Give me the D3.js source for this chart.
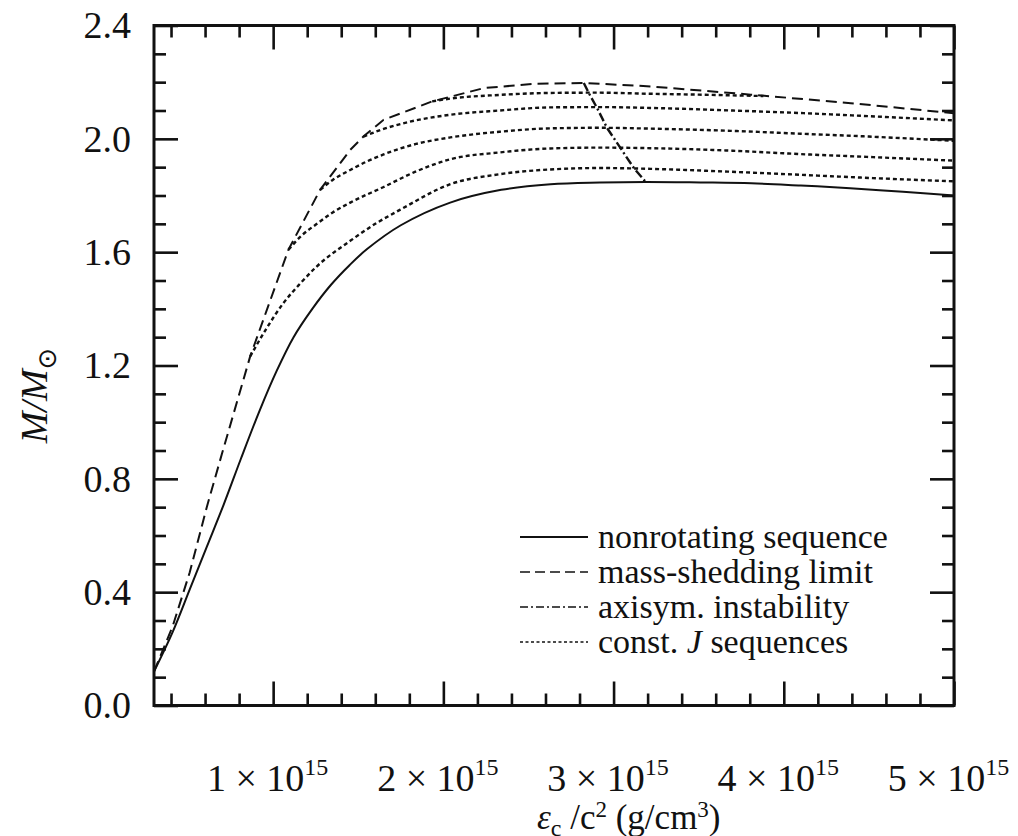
<!DOCTYPE html>
<html>
<head>
<meta charset="utf-8">
<script src="https://cdn.jsdelivr.net/npm/d3@7"></script>
<style>
  body { margin: 0; background: #fff; }
  svg { display: block; }
  text { font-family: "Liberation Serif", "Times New Roman", serif; fill: #111; }
</style>
</head>
<body>
<div id="chart"></div>
<script>
// central energy density in units of 1e15 g/cm^3, mass in solar masses
const nonrotating = [
  [0.30, 0.12], [0.41, 0.26], [0.51, 0.41], [0.61, 0.56], [0.71, 0.71],
  [0.81, 0.87], [0.92, 1.04], [1.02, 1.18], [1.12, 1.30], [1.23, 1.40],
  [1.34, 1.485], [1.45, 1.555], [1.55, 1.61], [1.75, 1.695], [2.04, 1.775],
  [2.34, 1.82], [2.63, 1.84], [2.92, 1.846], [3.19, 1.848], [3.51, 1.846],
  [3.81, 1.843], [4.10, 1.835], [4.39, 1.826], [4.70, 1.813], [5.00, 1.80]
];

const massShedding = [
  [0.30, 0.12], [0.41, 0.28], [0.51, 0.47], [0.61, 0.70], [0.70, 0.89],
  [0.865, 1.232], [1.09, 1.609], [1.276, 1.82], [1.453, 1.961], [1.53, 2.008],
  [1.649, 2.067], [1.934, 2.132], [2.237, 2.179], [2.53, 2.194], [2.825, 2.197],
  [3.218, 2.185], [3.806, 2.156], [4.394, 2.126], [5.00, 2.09]
];

const axisymInstability = [
  [2.825, 2.197], [2.854, 2.162], [2.903, 2.109], [2.962, 2.038],
  [3.041, 1.967], [3.119, 1.897], [3.188, 1.848]
];

const constJ1 = [
  [0.865, 1.232], [0.96, 1.33], [1.06, 1.42], [1.16, 1.49], [1.257, 1.55],
  [1.453, 1.64], [1.60, 1.70], [1.747, 1.75], [2.041, 1.84], [2.33, 1.875],
  [2.629, 1.892], [2.92, 1.897], [3.218, 1.894], [3.60, 1.886], [4.10, 1.873],
  [4.50, 1.862], [5.00, 1.85]
];
const constJ2 = [
  [1.09, 1.609], [1.17, 1.66], [1.257, 1.70], [1.35, 1.74], [1.453, 1.775],
  [1.649, 1.83], [1.84, 1.885], [2.041, 1.928], [2.33, 1.952], [2.629, 1.966],
  [2.92, 1.969], [3.218, 1.967], [3.70, 1.958], [4.10, 1.946], [4.50, 1.936],
  [5.00, 1.923]
];
const constJ3 = [
  [1.276, 1.82], [1.35, 1.855], [1.453, 1.89], [1.55, 1.92], [1.649, 1.945],
  [1.84, 1.982], [2.041, 2.005], [2.33, 2.025], [2.629, 2.037], [2.92, 2.039],
  [3.218, 2.036], [3.70, 2.028], [4.10, 2.018], [4.50, 2.008], [5.00, 1.993]
];
const constJ4 = [
  [1.53, 2.008], [1.649, 2.035], [1.80, 2.06], [2.041, 2.085], [2.33, 2.10],
  [2.629, 2.111], [2.92, 2.112], [3.218, 2.109], [3.70, 2.10], [4.10, 2.091],
  [4.50, 2.08], [5.00, 2.065]
];
const constJ5 = [
  [1.934, 2.132], [2.041, 2.142], [2.33, 2.155], [2.629, 2.162], [2.90, 2.163],
  [3.218, 2.159], [3.50, 2.156], [3.88, 2.151]
];
const constJ = [constJ1, constJ2, constJ3, constJ4, constJ5];

const xMajorTicks = [1, 2, 3, 4, 5];
const xMinorTicks = [0.4, 0.6, 0.8, 1.2, 1.4, 1.6, 1.8, 2.2, 2.4, 2.6, 2.8,
  3.2, 3.4, 3.6, 3.8, 4.2, 4.4, 4.6, 4.8];
const yMajorTicks = [0, 0.4, 0.8, 1.2, 1.6, 2.0, 2.4];
const yMinorTicks = [0.1, 0.2, 0.3, 0.5, 0.6, 0.7, 0.9, 1.0, 1.1, 1.3, 1.4, 1.5,
  1.7, 1.8, 1.9, 2.1, 2.2, 2.3];

const legendLabels = ["nonrotating sequence", "mass-shedding limit",
  "axisym. instability", "const. J sequences"];

const W = 1018, H = 836;
const plot = {left: 154, right: 954, top: 25.5, bottom: 705.5};

const svg = d3.select("#chart").append("svg")
  .attr("width", W)
  .attr("height", H);

const x = d3.scaleLinear().domain([0.3, 5.0]).range([plot.left, plot.right]);
const y = d3.scaleLinear().domain([0, 2.4]).range([plot.bottom, plot.top]);

const line = d3.line()
  .x(d => x(d[0]))
  .y(d => y(d[1]))
  .curve(d3.curveMonotoneX);

const smoothLine = d3.line()
  .x(d => x(d[0]))
  .y(d => y(d[1]))
  .curve(d3.curveCatmullRom.alpha(0.5));

const straightLine = d3.line()
  .x(d => x(d[0]))
  .y(d => y(d[1]));

// 曲线
const curves = svg.append("g").attr("fill", "none").attr("stroke", "#111");

constJ.forEach(seq => {
  curves.append("path")
    .attr("d", line(seq))
    .attr("stroke-width", 2.4)
    .attr("stroke-dasharray", "4,3");
});

curves.append("path")
  .attr("d", straightLine(massShedding))
  .attr("stroke-width", 2)
  .attr("stroke-dasharray", "11,6");

curves.append("path")
  .attr("d", straightLine(axisymInstability))
  .attr("stroke-width", 2.4)
  .attr("stroke-dasharray", "9,3,2,3");

curves.append("path")
  .attr("d", smoothLine(nonrotating))
  .attr("stroke-width", 2);

// 坐标轴（刻度朝内）
const tickStyle = g => {
  g.select(".domain").remove();
  g.selectAll(".tick line").attr("stroke", "#111").attr("stroke-width", 2.6);
};

svg.append("g")
  .attr("transform", `translate(0,${plot.bottom})`)
  .call(d3.axisBottom(x).tickValues(xMinorTicks).tickSizeInner(-12).tickSizeOuter(0).tickFormat(""))
  .call(tickStyle);
svg.append("g")
  .attr("transform", `translate(0,${plot.top})`)
  .call(d3.axisTop(x).tickValues(xMinorTicks).tickSizeInner(-12).tickSizeOuter(0).tickFormat(""))
  .call(tickStyle);
svg.append("g")
  .attr("transform", `translate(0,${plot.top})`)
  .call(d3.axisTop(x).tickValues(xMajorTicks).tickSizeInner(-24).tickSizeOuter(0).tickFormat(""))
  .call(tickStyle);

const xAxis = svg.append("g")
  .attr("transform", `translate(0,${plot.bottom})`)
  .call(d3.axisBottom(x).tickValues(xMajorTicks).tickSizeInner(-24).tickSizeOuter(0).tickFormat(""))
  .call(tickStyle);

const xLabel = xAxis.selectAll(".tick").append("text")
  .attr("x", -6)
  .attr("y", 85)
  .attr("text-anchor", "middle")
  .style("font-size", "38px");
xLabel.append("tspan").text(d => `${d} × 10`);
xLabel.append("tspan").text("15").attr("dy", -16).style("font-size", "24px");

svg.append("g")
  .attr("transform", `translate(${plot.left},0)`)
  .call(d3.axisLeft(y).tickValues(yMinorTicks).tickSizeInner(-12).tickSizeOuter(0).tickFormat(""))
  .call(tickStyle);
svg.append("g")
  .attr("transform", `translate(${plot.right},0)`)
  .call(d3.axisRight(y).tickValues(yMinorTicks).tickSizeInner(-12).tickSizeOuter(0).tickFormat(""))
  .call(tickStyle);
svg.append("g")
  .attr("transform", `translate(${plot.right},0)`)
  .call(d3.axisRight(y).tickValues(yMajorTicks).tickSizeInner(-24).tickSizeOuter(0).tickFormat(""))
  .call(tickStyle);

svg.append("g")
  .attr("transform", `translate(${plot.left},0)`)
  .call(d3.axisLeft(y).tickValues(yMajorTicks).tickSizeInner(-24).tickSizeOuter(0)
    .tickPadding(23).tickFormat(d3.format(".1f")))
  .call(tickStyle)
  .call(g => g.selectAll(".tick text")
    .attr("fill", "#111")
    .style("font-size", "38px")
    .style("font-family", "'Liberation Serif', serif"));

// 外框
svg.append("rect")
  .attr("x", plot.left)
  .attr("y", plot.top)
  .attr("width", plot.right - plot.left)
  .attr("height", plot.bottom - plot.top)
  .attr("fill", "none")
  .attr("stroke", "#111")
  .attr("stroke-width", 3);

// 轴标题
const yTitle = svg.append("text")
  .attr("transform", `translate(47,${(plot.top + plot.bottom) / 2 + 30}) rotate(-90)`)
  .attr("text-anchor", "middle")
  .style("font-size", "38px");
yTitle.append("tspan").text("M/M").style("font-style", "italic");
yTitle.append("tspan").text("⊙").attr("dy", 9).style("font-size", "26px")
  .style("font-family", "'DejaVu Sans', sans-serif");

const xTitle = svg.append("text")
  .attr("x", 537)
  .attr("y", 829)
  .style("font-size", "35px");
xTitle.append("tspan").text("ε").style("font-style", "italic");
xTitle.append("tspan").text("c").attr("dy", 7).style("font-size", "24px");
xTitle.append("tspan").text(" /c").attr("dy", -7);
xTitle.append("tspan").text("2").attr("dy", -12).style("font-size", "23px");
xTitle.append("tspan").text(" (g/cm").attr("dy", 12);
xTitle.append("tspan").text("3").attr("dy", -12).style("font-size", "23px");
xTitle.append("tspan").text(")").attr("dy", 12);

// 图例
const legendDash = [null, "10,5", "8,3,2,3", "3,2.5"];
const legend = svg.append("g").attr("transform", "translate(520,537)");
legendLabels.forEach((label, i) => {
  const row = legend.append("g").attr("transform", `translate(0,${i * 35})`);
  row.append("line")
    .attr("x1", 0).attr("x2", 68)
    .attr("stroke", "#111")
    .attr("stroke-width", i === 0 ? 1.8 : 1.6)
    .attr("stroke-dasharray", legendDash[i]);
  const t = row.append("text")
    .attr("x", 78)
    .attr("y", 11)
    .style("font-size", "34px");
  if (i === 3) {
    t.append("tspan").text("const. ");
    t.append("tspan").text("J").style("font-style", "italic");
    t.append("tspan").text(" sequences");
  } else {
    t.text(label);
  }
});
</script>
</body>
</html>
